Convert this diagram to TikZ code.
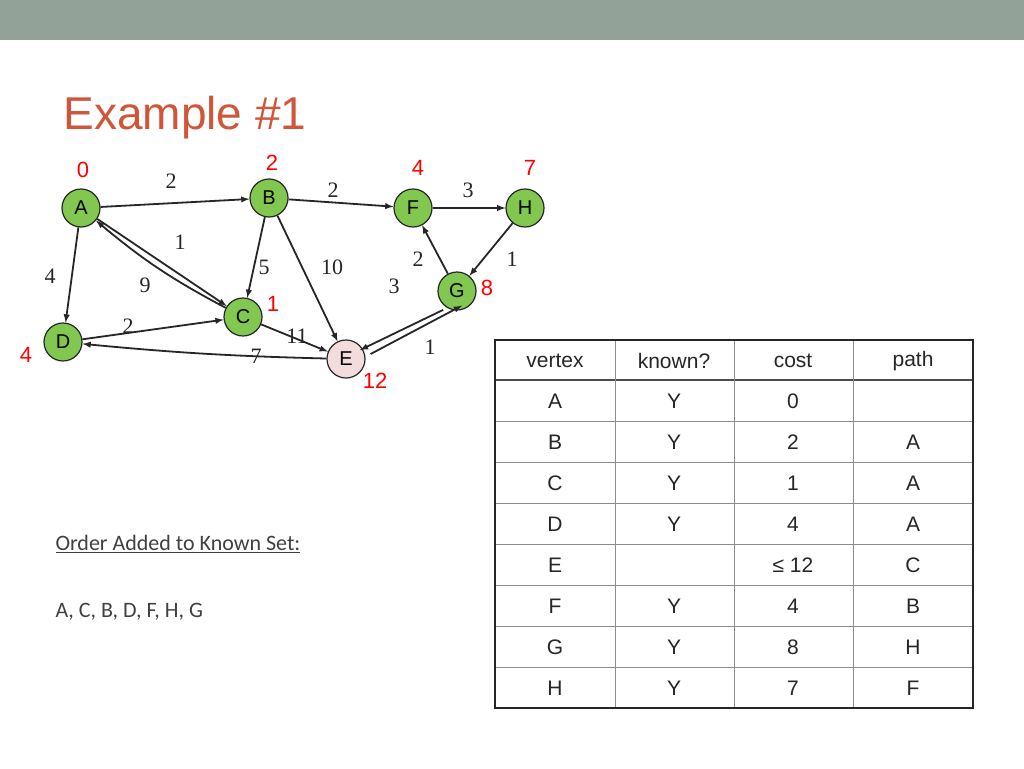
\documentclass[tikz,border=0pt]{standalone}
\usepackage{fontspec}
\setmainfont{Liberation Sans}
\newfontfamily\serifnum{Liberation Serif}
\newfontfamily\calfont{Carlito}
\definecolor{barcol}{RGB}{147,162,153}
\definecolor{titlecol}{RGB}{208,86,58}
\definecolor{vgreen}{RGB}{130,200,80}
\definecolor{epink}{RGB}{242,220,220}
\begin{document}
\begin{tikzpicture}[x=1pt,y=-1pt,
 vert/.style={circle,draw=black!85,line width=1.2pt,minimum size=38pt,inner sep=0pt,font=\fontsize{20}{20}\selectfont},
 vfill/.style={fill=vgreen},
 arr/.style={->,>=latex,line width=1.8pt,draw=black!85},
 wt/.style={font=\serifnum\fontsize{22}{22}\selectfont,text=black!85},
 cost/.style={font=\fontsize{22}{22}\selectfont,text=red},
 cell/.style={font=\fontsize{21}{21}\selectfont,text=black!85}]
\useasboundingbox (0,0) rectangle (1024,768);
\fill[white] (0,0) rectangle (1024,768);
\fill[barcol] (0,0) rectangle (1024,40);
\node[anchor=west,font=\fontsize{46}{46}\selectfont,text=titlecol] (title) at (60,118) {Example \#1};
\node[vert,vfill] (A) at (81,208) {A};
\node[vert,vfill] (B) at (269,198) {B};
\node[vert,vfill] (F) at (413,208) {F};
\node[vert,vfill] (H) at (525,208) {H};
\node[vert,vfill] (C) at (243,317) {C};
\node[vert,vfill] (G) at (457,291) {G};
\node[vert,vfill] (D) at (63,342) {D};
\node[vert,fill=epink] (E) at (346,359) {E};
\draw[arr] (A) -- (B);
\draw[arr] (A) -- (C);
\draw[arr] (C) to[bend left=6] (A);
\draw[arr] (A) -- (D);
\draw[arr] (B) -- (C);
\draw[arr] (B) -- (E);
\draw[arr] (B) -- (F);
\draw[arr] (F) -- (H);
\draw[arr] (H) -- (G);
\draw[arr] (G) -- (F);
\draw[arr] ([yshift=-5]G.south west) -- ([yshift=-5]E.north east);
\draw[arr] ([xshift=5,yshift=5]E.east) -- ([xshift=5,yshift=5]G.south);
\draw[arr] (D) -- (C);
\draw[arr] (C) -- (E);
\draw[arr] (E) to[bend left=2] (D);
\node[wt] (w1) at (171,181) {2};
\node[wt] (w2) at (333,190) {2};
\node[wt] (w3) at (468,190) {3};
\node[wt] (w4) at (180,242) {1};
\node[wt] (w5) at (264,267) {5};
\node[wt] (w6) at (332,267) {10};
\node[wt] (w7) at (418,259) {2};
\node[wt] (w8) at (512,259) {1};
\node[wt] (w9) at (50,276) {4};
\node[wt] (w10) at (145,285) {9};
\node[wt] (w11) at (394,286) {3};
\node[wt] (w12) at (128,326) {2};
\node[wt] (w13) at (297,336) {11};
\node[wt] (w14) at (256,356) {7};
\node[wt] (w15) at (430,347) {1};
\node[cost] (c1) at (83,170) {0};
\node[cost] (c2) at (272,163) {2};
\node[cost] (c3) at (418,168) {4};
\node[cost] (c4) at (530,168) {7};
\node[cost] (c5) at (273,304) {1};
\node[cost] (c6) at (487,288) {8};
\node[cost] (c7) at (26,355) {4};
\node[cost] (c8) at (375,381) {12};
\node[anchor=west,font=\calfont\fontsize{22}{22}\selectfont,text=black!75] (ord) at (52,544) {\underline{Order Added to Known Set:}};
\node[anchor=west,font=\calfont\fontsize{22}{22}\selectfont,text=black!75] (seq) at (52,612) {A, C, B, D, F, H, G};
\foreach \y in {380,421,462,503,544,585,626,667} \draw[black!45,line width=1pt] (495,\y) -- (973,\y);
\draw[black!70,line width=1.5pt] (495,380) -- (973,380);
\foreach \x in {615,734,853} \draw[black!45,line width=1pt] (\x,340) -- (\x,708);
\draw[black!85,line width=2.5pt] (495,340) rectangle (973,708);
\foreach \a/\b/\c/\d [count=\i from 0] in {vertex/known?/cost/path,A/Y/0/,B/Y/2/A,C/Y/1/A,D/Y/4/A,E//{≤ 12}/C,F/Y/4/B,G/Y/8/H,H/Y/7/F}{
 \pgfmathsetmacro\yy{\i==0 ? 361 : 360+41*\i}
 \node[cell] at (555,\yy) {\a};
 \node[cell] at (674,\yy) {\b};
 \node[cell] at (793,\yy) {\c};
 \node[cell] at (913,\yy) {\d};
}
\end{tikzpicture}
\end{document}
